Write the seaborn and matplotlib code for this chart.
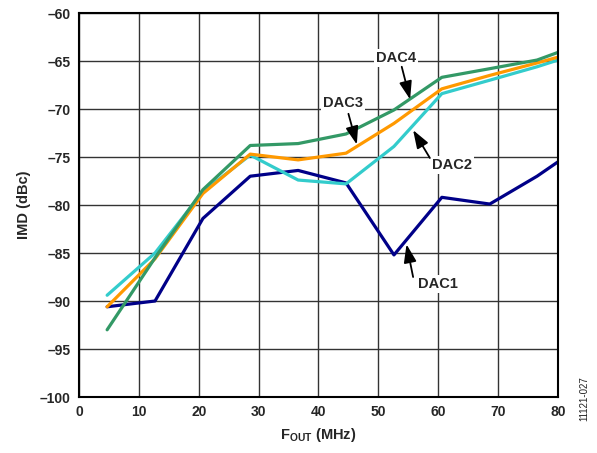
import matplotlib
matplotlib.use("Agg")
import matplotlib.pyplot as plt
import seaborn as sns
import pandas as pd

# Output frequency (MHz) and IMD (dBc) for each DAC channel
fout_mhz = [4.7, 12.7, 20.7, 28.6, 36.6, 44.6, 52.6, 60.6, 68.6, 76.5, 80.0]
dac1 = [-90.6, -90.0, -81.4, -77.0, -76.4, -77.7, -85.2, -79.2, -79.9, -77.0, -75.5]
dac2 = [-89.4, -85.0, -78.6, -74.8, -77.4, -77.8, -73.9, -68.4, -67.0, -65.6, -64.9]
dac3 = [-90.6, -85.6, -78.8, -74.7, -75.3, -74.6, -71.5, -67.9, -66.5, -65.2, -64.6]
dac4 = [-93.0, -85.5, -78.4, -73.8, -73.6, -72.6, -70.1, -66.7, -65.8, -64.9, -64.1]

series_names = ["DAC1", "DAC2", "DAC3", "DAC4"]
series_values = [dac1, dac2, dac3, dac4]
colors = {"DAC1": "#000088", "DAC2": "#33CCCC", "DAC3": "#FF9900", "DAC4": "#339966"}

x_ticks = [0, 10, 20, 30, 40, 50, 60, 70, 80]
y_ticks = [-100, -95, -90, -85, -80, -75, -70, -65, -60]

rows = []
for name, vals in zip(series_names, series_values):
    for f, v in zip(fout_mhz, vals):
        rows.append({"fout": f, "imd": v, "dac": name})
df = pd.DataFrame(rows)

sns.set_style("white")
plt.rcParams["font.family"] = ["Liberation Sans", "DejaVu Sans"]
plt.rcParams["mathtext.fontset"] = "custom"
plt.rcParams["mathtext.rm"] = "Liberation Sans:bold"
plt.rcParams["mathtext.bf"] = "Liberation Sans:bold"

fig = plt.figure(figsize=(5.97, 4.53), dpi=100)
ax = fig.add_axes([0.1323, 0.1236, 0.8024, 0.8477])

sns.lineplot(data=df, x="fout", y="imd", hue="dac", hue_order=series_names,
             palette=colors, linewidth=2.3, legend=False, ax=ax,
             estimator=None, sort=False)

ax.set_xlim(0, 80)
ax.set_ylim(-100, -60)
ax.set_xticks(x_ticks)
ax.set_yticks(y_ticks)
ax.set_xticklabels([str(t) for t in x_ticks], fontsize=10, fontweight="bold")
ax.set_yticklabels([f"\u2013{abs(t)}" for t in y_ticks], fontsize=10, fontweight="bold")
ax.tick_params(length=0, pad=6)
ax.grid(True, color="#333333", linewidth=1.0)
ax.set_axisbelow(True)
for s in ax.spines.values():
    s.set_color("black")
    s.set_linewidth(1.5)

ax.set_xlabel(r"$\mathrm{F_{OUT}}$ (MHz)", fontsize=10.5, fontweight="bold", labelpad=5)
ax.set_ylabel("IMD (dBc)", fontsize=10.5, fontweight="bold", labelpad=6)

# Channel callouts: label position, arrow tail, arrow head (data coordinates)
callouts = [
    ("DAC4", (52.9, -64.7), (53.9, -65.6), (55.3, -69.0)),
    ("DAC3", (44.1, -69.4), (45.0, -70.5), (46.4, -73.7)),
    ("DAC2", (62.3, -75.8), (58.6, -75.1), (55.8, -72.2)),
    ("DAC1", (59.9, -88.2), (55.8, -87.5), (54.7, -84.1)),
]
for name, text_xy, tail_xy, head_xy in callouts:
    ax.text(text_xy[0], text_xy[1], name, fontsize=10.5, fontweight="bold",
            ha="center", va="center", zorder=5,
            bbox=dict(facecolor="white", edgecolor="none", pad=1.5))
    ax.annotate("", xy=head_xy, xytext=tail_xy,
                arrowprops=dict(arrowstyle="-|>,head_length=1.0,head_width=0.35",
                                color="black", linewidth=1.3, shrinkA=0, shrinkB=0,
                                mutation_scale=11), zorder=6)

fig.text(0.978, 0.07, "11121-027", rotation=90, fontsize=7, ha="center", va="bottom",
         color="#222222")

fig.savefig("out.png", dpi=100)
